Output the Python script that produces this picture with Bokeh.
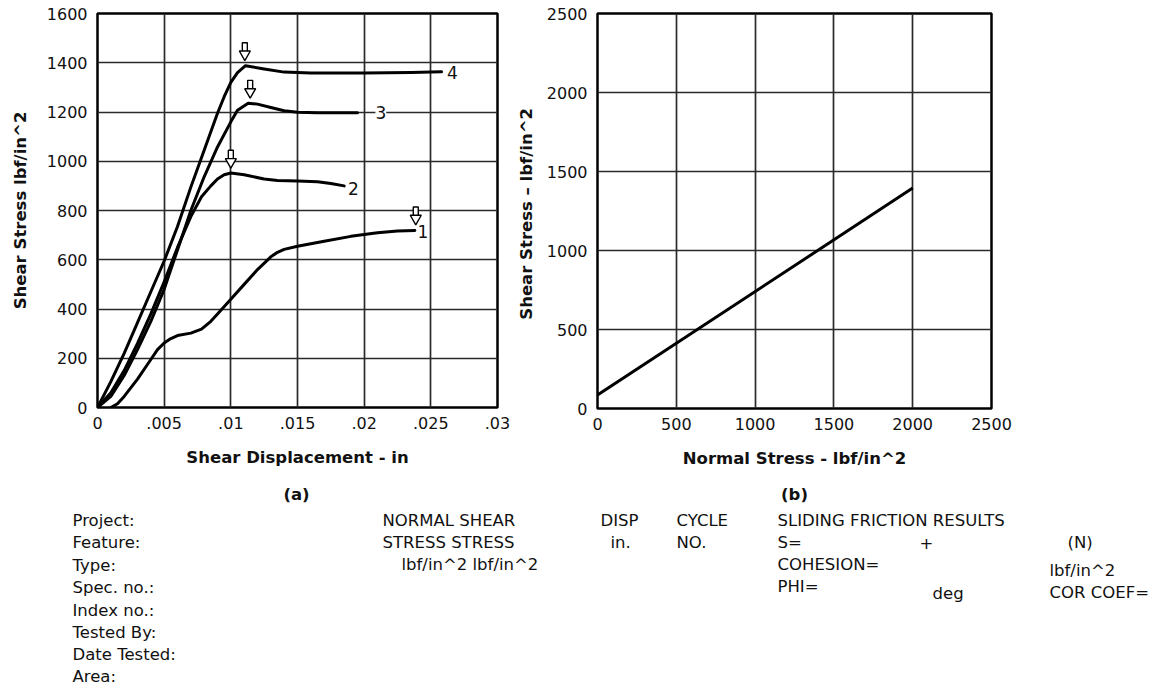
from bokeh.plotting import figure
from bokeh.layouts import column, row
from bokeh.models import Range1d, FixedTicker, Label, ColumnDataSource
from bokeh.core.properties import value
from bokeh.embed import file_html
from bokeh.resources import INLINE

# ---------------- data ----------------
disp_ticks = [0, 0.005, 0.01, 0.015, 0.02, 0.025, 0.03]
disp_tick_labels = ["0", ".005", ".01", ".015", ".02", ".025", ".03"]
shear_ticks_a = [0, 200, 400, 600, 800, 1000, 1200, 1400, 1600]
normal_ticks_b = [0, 500, 1000, 1500, 2000, 2500]
shear_ticks_b = [0, 500, 1000, 1500, 2000, 2500]

curve1_x = [0.001, 0.0015, 0.002, 0.003, 0.004, 0.0045, 0.005, 0.0055, 0.006, 0.007, 0.0078,
            0.0085, 0.009, 0.010, 0.011, 0.012, 0.013, 0.0135, 0.014, 0.015, 0.017, 0.019,
            0.021, 0.0225, 0.0238]
curve1_y = [0, 15, 45, 115, 195, 235, 262, 280, 292, 302, 318,
            350, 380, 440, 500, 560, 612, 630, 642, 655, 675, 695,
            710, 717, 719]

curve2_x = [0, 0.001, 0.002, 0.003, 0.004, 0.005, 0.006, 0.007, 0.0078, 0.0085, 0.009,
            0.0095, 0.010, 0.011, 0.0125, 0.0135, 0.015, 0.0165, 0.0175, 0.0185]
curve2_y = [0, 60, 150, 260, 380, 510, 650, 775, 856, 900, 928,
            945, 952, 945, 928, 922, 920, 917, 910, 900]

curve3_x = [0, 0.001, 0.002, 0.003, 0.004, 0.005, 0.006, 0.007, 0.008, 0.009, 0.010,
            0.0105, 0.0113, 0.012, 0.013, 0.014, 0.015, 0.0165, 0.0195]
curve3_y = [0, 45, 130, 235, 350, 480, 640, 800, 937, 1058, 1160,
            1207, 1236, 1232, 1218, 1205, 1199, 1197, 1197]

curve4_x = [0, 0.001, 0.002, 0.003, 0.004, 0.005, 0.006, 0.007, 0.008, 0.009, 0.0095,
            0.010, 0.0105, 0.0111, 0.0125, 0.014, 0.016, 0.020, 0.0235, 0.0258]
curve4_y = [0, 105, 220, 345, 470, 595, 735, 895, 1045, 1195, 1262,
            1320, 1360, 1388, 1375, 1362, 1358, 1358, 1360, 1363]

curve_names = ["1", "2", "3", "4"]
curve_label_x = [0.02440, 0.01920, 0.02125, 0.02662]
curve_label_y = [716, 888, 1196, 1362]
peak_arrow_x = [0.02387, 0.0100, 0.01145, 0.01105]
peak_arrow_y = [780, 1010, 1294, 1447]

fit_normal = [0, 2000]
fit_shear = [85, 1395]

FONT = "DejaVu Sans"
INK = "#111111"
GRID = "#2a2a2a"


def style(p, xticks, yticks):
    p.xaxis.ticker = FixedTicker(ticks=xticks)
    p.yaxis.ticker = FixedTicker(ticks=yticks)
    p.xgrid.ticker = FixedTicker(ticks=xticks)
    p.ygrid.ticker = FixedTicker(ticks=yticks)
    for g in (p.xgrid, p.ygrid):
        g.grid_line_color = GRID
        g.grid_line_width = 1.7
        g.grid_line_alpha = 1.0
    p.outline_line_color = "black"
    p.outline_line_width = 2.5
    p.outline_line_alpha = 1.0
    for ax in (p.xaxis, p.yaxis):
        ax.axis_line_color = None
        ax.major_tick_out = 0
        ax.major_tick_in = 0
        ax.minor_tick_out = 0
        ax.minor_tick_in = 0
        ax.major_label_text_font = FONT
        ax.major_label_text_font_size = "16px"
        ax.major_label_text_color = INK
        ax.axis_label_text_font = FONT
        ax.axis_label_text_font_size = "16.5px"
        ax.axis_label_text_font_style = "bold"
        ax.axis_label_text_color = INK
    p.xaxis.major_label_standoff = 9
    p.yaxis.major_label_standoff = 10
    p.background_fill_color = "white"
    p.border_fill_color = "white"


# ---------------- (a) shear stress vs displacement ----------------
FRAME_H_A = 394
p1 = figure(frame_width=400, frame_height=FRAME_H_A,
            min_border_left=97, min_border_right=15, min_border_top=13, min_border_bottom=60,
            x_range=Range1d(0, 0.03), y_range=Range1d(0, 1600),
            output_backend="svg", toolbar_location=None)
style(p1, disp_ticks, shear_ticks_a)
p1.xaxis.major_label_overrides = {t: l for t, l in zip(disp_ticks, disp_tick_labels)}
p1.xaxis.axis_label = "Shear Displacement - in"
p1.yaxis.axis_label = "Shear Stress lbf/in^2"
p1.xaxis.axis_label_standoff = 16
p1.yaxis.axis_label_standoff = 14

for cx, cy in ((curve1_x, curve1_y), (curve2_x, curve2_y), (curve3_x, curve3_y), (curve4_x, curve4_y)):
    p1.line(cx, cy, line_color="black", line_width=3, line_join="round", line_cap="round")

for nm, lx, ly in zip(curve_names, curve_label_x, curve_label_y):
    p1.add_layout(Label(x=lx, y=ly, text=nm, text_font=FONT, text_font_size="17px",
                        text_color=INK, text_align="center", text_baseline="middle",
                        background_fill_color="white"))

# hollow down-arrows marking the peaks: a hollow stem above a hollow head
upp = 1600 / FRAME_H_A  # data units per screen pixel on the y axis
stem_y = [y + 4 * upp for y in peak_arrow_y]
head_y = [y - 3 * upp for y in peak_arrow_y]
p1.rect(x=peak_arrow_x, y=stem_y, width=5, height=9, width_units="screen", height_units="screen",
        fill_color="white", line_color="black", line_width=1.4)
p1.scatter(x=peak_arrow_x, y=head_y, marker="inverted_triangle", size=11,
           fill_color="white", line_color="black", line_width=1.4)

# ---------------- (b) shear stress vs normal stress ----------------
p2 = figure(frame_width=394, frame_height=395,
            min_border_left=85, min_border_right=30, min_border_top=12, min_border_bottom=60,
            x_range=Range1d(0, 2500), y_range=Range1d(0, 2500),
            output_backend="svg", toolbar_location=None)
style(p2, normal_ticks_b, shear_ticks_b)
p2.xaxis.axis_label = "Normal Stress - lbf/in^2"
p2.yaxis.axis_label = "Shear Stress \u2013  lbf/in^2"
p2.xaxis.axis_label_standoff = 16
p2.yaxis.axis_label_standoff = 8
p2.line(fit_normal, fit_shear, line_color="black", line_width=3)

# ---------------- data sheet text ----------------
info_text = ["(a)", "(b)",
             "Project:", "Feature:", "Type:", "Spec. no.:", "Index no.:", "Tested By:", "Date Tested:", "Area:",
             "NORMAL SHEAR", "STRESS STRESS", "lbf/in^2 lbf/in^2",
             "DISP", "in.", "CYCLE", "NO.",
             "SLIDING FRICTION RESULTS", "S=", "COHESION=", "PHI=",
             "+", "(N)", "lbf/in^2", "deg", "COR COEF="]
info_x = [296, 794,
          72, 72, 72, 72, 72, 72, 72, 72,
          382, 382, 401,
          600, 610, 676, 676,
          777, 777, 777, 777,
          926, 1067, 1049, 932, 1049]
info_y = [491.5, 491.5,
          517.5, 540, 562.5, 585, 607.5, 629.5, 652, 674,
          517.5, 540, 562,
          517.5, 540, 517.5, 540,
          517.5, 540, 562, 584,
          540, 540, 568, 590.5, 590]
info_align = ["center", "center"] + ["left"] * 19 + ["center"] + ["left"] * 4
info_style = ["bold", "bold"] + ["normal"] * 24

p3 = figure(width=1155, height=219, x_range=Range1d(0, 1155), y_range=Range1d(686, 467),
            min_border=0, output_backend="svg", toolbar_location=None)
p3.axis.visible = False
p3.grid.visible = False
p3.outline_line_color = None
src = ColumnDataSource(dict(x=info_x, y=info_y, text=info_text, align=info_align, fs=info_style))
p3.text(x="x", y="y", text="text", text_align="align", text_font_style="fs", source=src,
        text_font=value(FONT), text_font_size="16.5px", text_color=INK, text_baseline="middle")

layout = column(row(p1, p2), p3)
open("out.html", "w").write(file_html(layout, INLINE))
